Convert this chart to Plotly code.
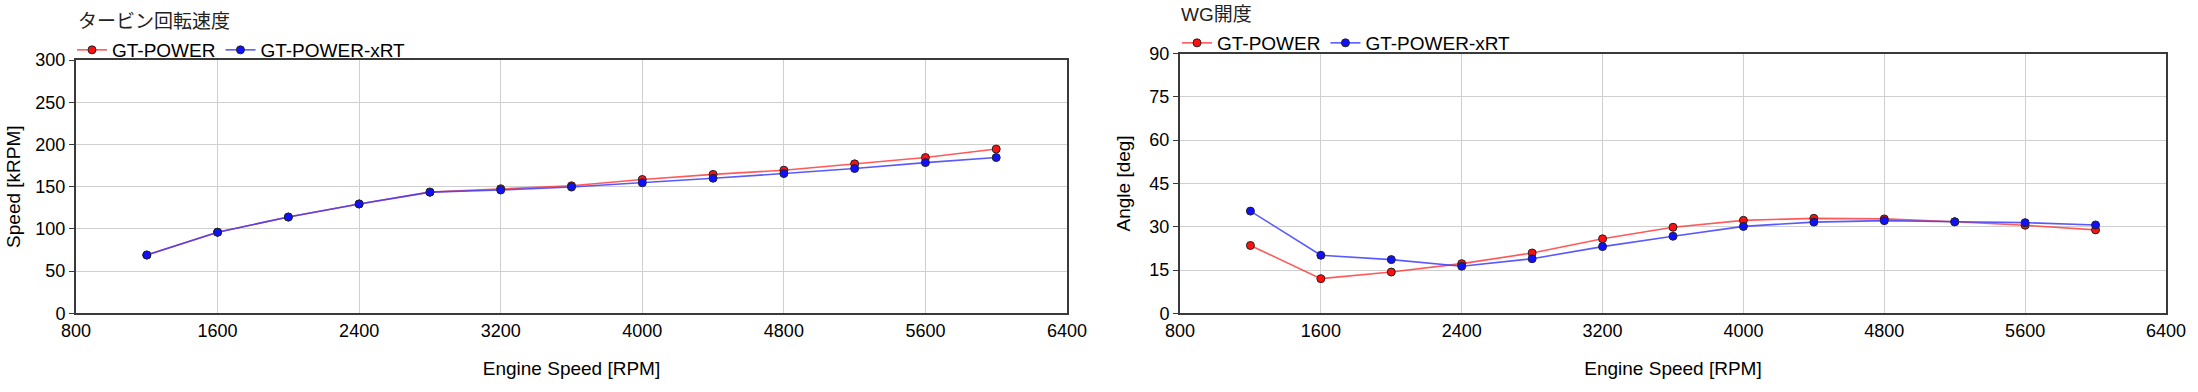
import plotly.graph_objects as go

# ---- data ----
rpm = [1200, 1600, 2000, 2400, 2800, 3200, 3600, 4000, 4400, 4800, 5200, 5600, 6000]

turbo_gtpower = [69, 96, 114, 129.5, 143.5, 147.5, 151, 158.5, 164.5, 169.5, 177, 184.5, 194.5]
turbo_xrt     = [69, 96, 114, 129.5, 143.5, 146, 149.5, 154.5, 160, 165.5, 171.5, 178.5, 184.5]

wg_gtpower = [23.5, 12.0, 14.3, 17.2, 20.9, 25.8, 29.8, 32.2, 32.9, 32.7, 31.7, 30.5, 28.9]
wg_xrt     = [35.4, 20.1, 18.6, 16.3, 18.9, 23.1, 26.7, 30.1, 31.6, 32.1, 31.7, 31.4, 30.6]

series_names = ["GT-POWER", "GT-POWER-xRT"]
x_ticks = [800, 1600, 2400, 3200, 4000, 4800, 5600, 6400]
left_y_ticks = [0, 50, 100, 150, 200, 250, 300]
right_y_ticks = [0, 15, 30, 45, 60, 75, 90]

titles = ["タービン回転速度", "WG開度"]
x_title = "Engine Speed [RPM]"
y_titles = ["Speed [kRPM]", "Angle [deg]"]

# ---- styling ----
W, H = 2198, 392
FONT = "Liberation Sans, Arial, Noto Sans CJK JP, sans-serif"
FS_TICK = 18
FS = 19
line_cols = ["rgba(255,60,60,0.85)", "rgba(60,60,255,0.85)"]
mark_cols = ["#ff1010", "#1010ff"]

def px_x(p):
    return p / W

def px_y(p):
    return 1 - p / H

fig = go.Figure()

def add_series(xs, ys, i, xa, ya, legend):
    fig.add_trace(go.Scatter(
        x=xs, y=ys, mode="lines+markers", name=series_names[i],
        line=dict(color=line_cols[i], width=1.6),
        marker=dict(color=mark_cols[i], size=8, line=dict(color="#222", width=1)),
        xaxis=xa, yaxis=ya, legend=legend,
    ))

add_series(rpm, turbo_gtpower, 0, "x", "y", "legend")
add_series(rpm, turbo_xrt, 1, "x", "y", "legend")
add_series(rpm, wg_gtpower, 0, "x2", "y2", "legend2")
add_series(rpm, wg_xrt, 1, "x2", "y2", "legend2")

axis_common = dict(
    showgrid=True, gridcolor="#cfcfcf", gridwidth=1.3,
    showline=True, linecolor="#3a3a3a", linewidth=2, mirror=True,
    zeroline=False, automargin=False,
    tickfont=dict(family=FONT, size=FS_TICK, color="#000"),
)

fig.update_layout(
    width=W, height=H,
    margin=dict(l=0, r=0, t=0, b=0, autoexpand=False),
    paper_bgcolor="white", plot_bgcolor="white",
    font=dict(family=FONT, color="#000"),
    xaxis=dict(domain=[px_x(76), px_x(1067)], anchor="y", range=[800, 6400],
               tickvals=x_ticks, ticks="", ticklen=0,
               title=dict(text=x_title, font=dict(size=FS, family=FONT), standoff=22),
               **axis_common),
    yaxis=dict(domain=[px_y(313.3), px_y(60)], anchor="x", range=[0, 300],
               tickvals=left_y_ticks, ticks="outside", ticklen=5, tickcolor="#3a3a3a",
               title=dict(text=y_titles[0], font=dict(size=FS, family=FONT), standoff=10),
               **axis_common),
    xaxis2=dict(domain=[px_x(1180), px_x(2166)], anchor="y2", range=[800, 6400],
                tickvals=x_ticks, ticks="", ticklen=0,
                title=dict(text=x_title, font=dict(size=FS, family=FONT), standoff=22),
                **axis_common),
    yaxis2=dict(domain=[px_y(313.3), px_y(53.5)], anchor="x2", range=[0, 90],
                tickvals=right_y_ticks, ticks="outside", ticklen=5, tickcolor="#3a3a3a",
                title=dict(text=y_titles[1], font=dict(size=FS, family=FONT), standoff=14),
                **axis_common),
    legend=dict(orientation="h", x=px_x(72), y=px_y(50), xanchor="left", yanchor="middle",
                font=dict(family=FONT, size=FS, color="#000"), bgcolor="rgba(0,0,0,0)",
                itemwidth=30, tracegroupgap=0),
    legend2=dict(orientation="h", x=px_x(1177), y=px_y(43), xanchor="left", yanchor="middle",
                 font=dict(family=FONT, size=FS, color="#000"), bgcolor="rgba(0,0,0,0)",
                 itemwidth=30, tracegroupgap=0),
    annotations=[
        dict(text=titles[0], x=px_x(76), y=px_y(20), xref="paper", yref="paper",
             xanchor="left", yanchor="middle", showarrow=False,
             font=dict(family="Noto Sans CJK JP, sans-serif", size=19, color="#222")),
        dict(text=titles[1], x=px_x(1179), y=px_y(15), xref="paper", yref="paper",
             xanchor="left", yanchor="middle", showarrow=False,
             font=dict(family="Liberation Sans, Noto Sans CJK JP, sans-serif", size=19, color="#222")),
    ],
)

fig.write_html("out.html", config={"displayModeBar": False},
               post_script="document.body.style.margin='0';document.body.style.overflow='hidden';")
